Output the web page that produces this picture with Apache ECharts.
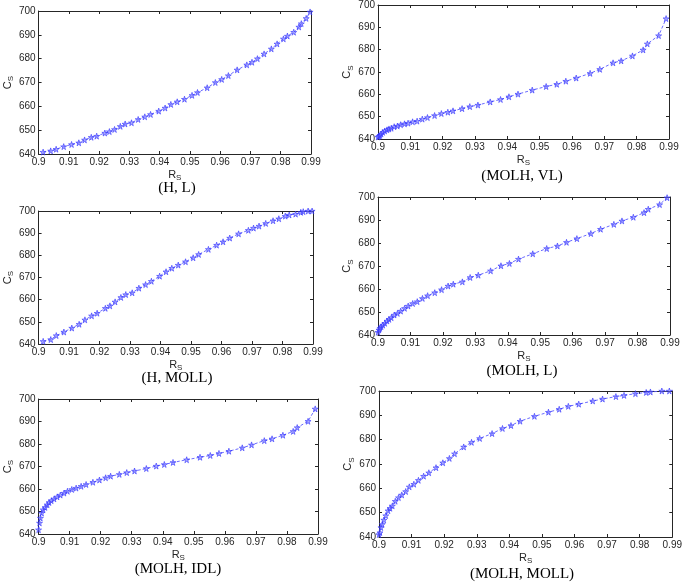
<!DOCTYPE html>
<html>
<head>
<meta charset="utf-8">
<script src="https://cdn.jsdelivr.net/npm/echarts@6/dist/echarts.min.js"></script>
<style>
  html, body { margin: 0; padding: 0; background: #fff; }
  #chart { width: 685px; height: 582px; }
</style>
</head>
<body>
<div id="chart"></div>
<script>
// R_S grid used by the H panels
const xH = [0.9015, 0.9040, 0.9058, 0.9083, 0.9109, 0.9133, 0.9152, 0.9174, 0.9192, 0.9219, 0.9234,
  0.9251, 0.9270, 0.9286, 0.9307, 0.9329, 0.9351, 0.9370, 0.9397, 0.9418, 0.9437, 0.9458, 0.9482,
  0.9507, 0.9525, 0.9557, 0.9584, 0.9605, 0.9627, 0.9656, 0.9688, 0.9705, 0.9723, 0.9745, 0.9769,
  0.9788, 0.9809, 0.9822, 0.9843, 0.9860, 0.9868, 0.9884, 0.9897]
// R_S grid used by the MOLH panels
const xMolh = [0.9000, 0.9003, 0.9006, 0.9010, 0.9015, 0.9021, 0.9028, 0.9034, 0.9041, 0.9050, 0.9060,
  0.9070, 0.9082, 0.9093, 0.9107, 0.9121, 0.9137, 0.9153, 0.9175, 0.9196, 0.9216, 0.9232, 0.9260,
  0.9284, 0.9309, 0.9347, 0.9379, 0.9405, 0.9433, 0.9477, 0.9520, 0.9553, 0.9581, 0.9613, 0.9656,
  0.9686, 0.9727, 0.9752, 0.9787, 0.9820, 0.9833, 0.9868, 0.9891]

const yHL = [640.8, 641.3, 642.0, 643.1, 644.0, 644.7, 645.9, 647.0, 647.5, 648.8, 649.4, 650.3, 651.6,
  652.6, 653.1, 654.5, 655.6, 656.6, 658.0, 659.3, 660.8, 661.9, 663.0, 664.6, 665.8, 667.8, 670.0,
  671.3, 672.9, 675.3, 677.4, 678.5, 680.0, 682.0, 684.1, 686.2, 688.3, 689.5, 691.1, 693.3, 694.7,
  696.9, 699.6]
const yMolhVL = [640.9, 641.2, 641.6, 642.2, 643.0, 643.6, 644.1, 644.5, 644.8, 645.5, 645.8, 646.4,
  646.8, 647.1, 647.7, 648.0, 648.9, 649.6, 650.5, 651.4, 652.0, 652.6, 653.6, 654.5, 655.2, 656.6,
  657.7, 658.9, 660.1, 661.9, 663.5, 664.5, 665.9, 667.3, 669.4, 671.2, 674.1, 675.0, 677.2, 679.9,
  682.6, 686.3, 693.9]
const yHMoll = [641.2, 642.0, 643.8, 645.4, 647.2, 648.9, 650.9, 652.7, 653.9, 656.1, 657.2, 659.0,
  661.0, 662.3, 663.1, 665.2, 666.8, 668.3, 670.6, 672.6, 674.2, 675.6, 677.1, 678.9, 680.4, 682.7,
  684.6, 686.1, 687.8, 689.7, 691.3, 692.3, 693.2, 694.4, 695.6, 696.5, 697.7, 698.2, 698.6, 699.4,
  699.7, 700.0, 700.0]
const yMolhL = [641.2, 642.2, 642.9, 643.6, 644.3, 645.1, 646.1, 646.8, 647.5, 648.7, 649.4, 650.4,
  651.6, 652.6, 653.7, 654.5, 655.9, 657.1, 658.4, 659.7, 661.3, 662.1, 663.1, 665.0, 666.0, 667.9,
  670.1, 671.1, 673.0, 675.3, 677.6, 678.7, 680.3, 681.9, 684.1, 686.0, 688.1, 689.6, 691.2, 693.2,
  694.7, 696.7, 699.7]
const yMolhIdl = [641.9, 644.9, 647.1, 649.3, 650.8, 651.8, 653.0, 654.0, 654.8, 655.6, 656.5, 657.3,
  658.2, 659.0, 659.8, 660.4, 661.2, 662.0, 663.0, 664.0, 665.0, 665.7, 666.5, 667.3, 668.0, 669.1,
  670.2, 670.9, 671.8, 673.0, 674.1, 674.9, 675.8, 676.8, 678.3, 679.6, 681.5, 682.3, 683.9, 685.6,
  687.3, 690.1, 695.6]
const yMolhMoll = [641.0, 641.8, 643.9, 645.2, 647.0, 648.8, 650.8, 651.8, 652.8, 654.7, 656.2, 657.3,
  658.7, 660.6, 661.7, 663.3, 665.0, 666.4, 668.5, 670.5, 672.3, 674.2, 677.0, 678.9, 680.5, 682.5,
  684.6, 685.8, 687.6, 689.6, 691.3, 692.5, 693.7, 694.6, 695.9, 696.7, 697.7, 698.2, 698.9, 699.4,
  699.6, 700.0, 700.0]

const captions = ['(H, L)', '(MOLH, VL)', '(H, MOLL)', '(MOLH, L)', '(MOLH, IDL)', '(MOLH, MOLL)']

const panels = [
  { x: xH, y: yHL },
  { x: xMolh, y: yMolhVL },
  { x: xH, y: yHMoll },
  { x: xMolh, y: yMolhL },
  { x: xMolh, y: yMolhIdl },
  { x: xMolh, y: yMolhMoll }
]

// plot boxes in px: left, top, width, height, caption centre
const layout = [
  { left: 32, top: 11, width: 279, height: 143, cx: 177, cy: 188 },
  { left: 378, top: 4, width: 291, height: 135, cx: 522, cy: 176 },
  { left: 32, top: 211, width: 281, height: 133, cx: 177, cy: 378 },
  { left: 378, top: 197, width: 292, height: 138, cx: 522, cy: 371 },
  { left: 33, top: 399, width: 285, height: 135, cx: 178, cy: 569 },
  { left: 379, top: 391, width: 296, height: 146, cx: 522, cy: 574 }
]

const sans = 'Liberation Sans, Arial, sans-serif'
const axisColor = '#262626'
const star = 'path://M50,0 L61,35 L98,35 L68,57 L79,91 L50,70 L21,91 L32,57 L2,35 L39,35 Z'

const nameRich = {
  a: { fontSize: 11, fontFamily: sans, color: axisColor, lineHeight: 14 },
  b: { fontSize: 8, fontFamily: sans, color: axisColor, lineHeight: 14, padding: [6, 0, 0, 0] }
}

function xAxisFor(i, pos) {
  const main = pos === 'bottom'
  return {
    type: 'value', gridIndex: i, position: pos,
    min: 0.9, max: 0.99, interval: 0.01,
    name: main ? '{a|R}{b|S}' : '', nameLocation: 'middle', nameGap: 12,
    nameTextStyle: { rich: nameRich },
    axisLine: { show: true, onZero: false, lineStyle: { color: axisColor, width: 1 } },
    axisTick: { show: true, inside: true, length: 3, lineStyle: { color: axisColor } },
    axisLabel: {
      show: main, margin: 3, fontSize: 10, fontFamily: sans, color: axisColor,
      formatter: v => String(Math.round(v * 100) / 100)
    },
    splitLine: { show: false }
  }
}

function yAxisFor(i, pos) {
  const main = pos === 'left'
  return {
    type: 'value', gridIndex: i, position: pos,
    min: 640, max: 700, interval: 10,
    name: main ? '{a|C}{b|S}' : '', nameLocation: 'middle', nameGap: 22, nameRotate: 90,
    nameTextStyle: { rich: nameRich },
    axisLine: { show: true, onZero: false, lineStyle: { color: axisColor, width: 1 } },
    axisTick: { show: true, inside: true, length: 3, lineStyle: { color: axisColor } },
    axisLabel: { show: main, margin: 3, fontSize: 10, fontFamily: sans, color: axisColor },
    splitLine: { show: false }
  }
}

const grids = [], xAxes = [], yAxes = [], series = [], graphics = []
panels.forEach((p, i) => {
  const l = layout[i]
  grids.push({ left: l.left, top: l.top, width: l.width, height: l.height, containLabel: false })
  xAxes.push(xAxisFor(i, 'bottom'), xAxisFor(i, 'top'))
  yAxes.push(yAxisFor(i, 'left'), yAxisFor(i, 'right'))
  series.push({
    type: 'line',
    xAxisIndex: 2 * i, yAxisIndex: 2 * i,
    data: p.x.map((v, k) => [v, p.y[k]]),
    symbol: star, symbolSize: 6,
    itemStyle: { color: 'rgba(110,110,255,0.55)', borderColor: '#2f2fff', borderWidth: 0.6 },
    lineStyle: { color: '#5a5aff', width: 0.9, type: [3, 2] },
    animation: false, silent: true
  })
  graphics.push({
    type: 'text', x: l.cx, y: l.cy,
    style: {
      text: captions[i], font: '15px "Liberation Serif", "Times New Roman", serif',
      fill: '#000', textAlign: 'center', textVerticalAlign: 'middle'
    }
  })
})

const chart = echarts.init(document.getElementById('chart'))
chart.setOption({
  backgroundColor: '#fff',
  animation: false,
  grid: grids,
  xAxis: xAxes,
  yAxis: yAxes,
  series: series,
  graphic: graphics
})
</script>
</body>
</html>
